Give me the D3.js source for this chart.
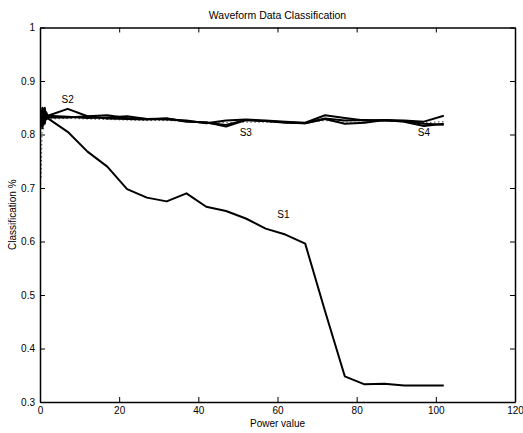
<!DOCTYPE html>
<html>
<head>
<meta charset="utf-8">
<script src="https://cdn.jsdelivr.net/npm/d3@7"></script>
<style>
  body { margin: 0; background: #fff; }
  text { font-family: "Liberation Sans", Arial, sans-serif; fill: #000; }
</style>
</head>
<body>
<div id="chart"></div>
<script>
// power values (x) : a few close to zero, then every 5
var powerValues = [0.3, 0.6, 0.9, 1.2, 1.5, 2, 7, 12, 17, 22, 27, 32, 37, 42, 47, 52, 57, 62, 67, 72, 77, 82, 87, 92, 97, 102];

var s1Values = [0.845, 0.815, 0.840, 0.820, 0.835, 0.830, 0.805, 0.768, 0.740, 0.698, 0.682, 0.675, 0.690, 0.665, 0.657, 0.643, 0.624, 0.613, 0.596, 0.470, 0.348, 0.333, 0.334, 0.331, 0.331, 0.331];
var s2Values = [0.825, 0.850, 0.830, 0.845, 0.828, 0.835, 0.848, 0.834, 0.836, 0.831, 0.829, 0.830, 0.825, 0.822, 0.818, 0.827, 0.825, 0.823, 0.821, 0.830, 0.826, 0.827, 0.826, 0.825, 0.820, 0.818];
var s3Values = [0.840, 0.812, 0.848, 0.826, 0.842, 0.835, 0.833, 0.831, 0.832, 0.834, 0.829, 0.828, 0.826, 0.821, 0.826, 0.828, 0.826, 0.824, 0.822, 0.836, 0.831, 0.826, 0.827, 0.826, 0.824, 0.835];
var s4Values = [0.818, 0.846, 0.822, 0.850, 0.830, 0.832, 0.832, 0.834, 0.830, 0.829, 0.828, 0.830, 0.824, 0.823, 0.815, 0.827, 0.825, 0.822, 0.821, 0.829, 0.820, 0.822, 0.827, 0.824, 0.816, 0.820];
var dottedValues = [0.720, 0.840, 0.810, 0.835, 0.826, 0.829, 0.830, 0.829, 0.828, 0.827, 0.826, 0.826, 0.825, 0.823, 0.822, 0.823, 0.823, 0.822, 0.822, 0.826, 0.823, 0.823, 0.825, 0.824, 0.822, 0.824];

// series labels and the point they sit by
var seriesLabels = ["S1", "S2", "S3", "S4"];
var labelX = [61.5, 7, 52, 97];
var labelY = [0.643, 0.858, 0.797, 0.797];

var xTicks = [0, 20, 40, 60, 80, 100, 120];
var yTicks = [0.3, 0.4, 0.5, 0.6, 0.7, 0.8, 0.9, 1];

var width = 523, height = 433;
var margin = {top: 27.5, right: 8, bottom: 31, left: 40};
var graphWidth = width - margin.left - margin.right;
var graphHeight = height - margin.top - margin.bottom;

var svg = d3.select("#chart")
  .append("svg")
  .attr("width", width)
  .attr("height", height)
  .append("g")
  .attr("transform", "translate(" + margin.left + "," + margin.top + ")");

var x = d3.scaleLinear().domain([0, 120]).range([0, graphWidth]);
var y = d3.scaleLinear().domain([0.3, 1]).range([graphHeight, 0]);

var tickLen = 5;

// axes (MATLAB style: ticks inward, box all round)
svg.append("g")
  .attr("transform", "translate(0," + graphHeight + ")")
  .call(d3.axisBottom(x).tickValues(xTicks).tickSizeInner(-tickLen).tickSizeOuter(0).tickPadding(5).tickFormat(d3.format("d")))
  .call(styleAxis);

svg.append("g")
  .call(d3.axisTop(x).tickValues(xTicks).tickSizeInner(-tickLen).tickSizeOuter(0).tickFormat(""))
  .call(styleAxis);

svg.append("g")
  .call(d3.axisLeft(y).tickValues(yTicks).tickSizeInner(-tickLen).tickSizeOuter(0).tickPadding(5).tickFormat(d => d === 1 ? "1" : d3.format(".1f")(d)))
  .call(styleAxis);

svg.append("g")
  .attr("transform", "translate(" + graphWidth + ",0)")
  .call(d3.axisRight(y).tickValues(yTicks).tickSizeInner(-tickLen).tickSizeOuter(0).tickFormat(""))
  .call(styleAxis);

function styleAxis(g) {
  g.select(".domain").attr("stroke", "#000").attr("stroke-width", 1.5);
  g.selectAll(".tick line").attr("stroke", "#000").attr("stroke-width", 1);
  g.selectAll(".tick text").attr("font-size", "10px").attr("font-family", "Liberation Sans, Arial, sans-serif").attr("fill", "#000");
}

// lines
var line = d3.line()
  .x((d, i) => x(powerValues[i]))
  .y(d => y(d));

svg.append("path")
  .datum(dottedValues)
  .attr("d", line)
  .attr("fill", "none")
  .attr("stroke", "#000")
  .attr("stroke-width", 1)
  .attr("stroke-dasharray", "1,3");

[s1Values, s2Values, s3Values, s4Values].forEach(function(vals) {
  svg.append("path")
    .datum(vals)
    .attr("d", line)
    .attr("fill", "none")
    .attr("stroke", "#000")
    .attr("stroke-width", 2)
    .attr("stroke-linejoin", "round");
});

// series labels
svg.selectAll(".slabel")
  .data(seriesLabels)
  .enter()
  .append("text")
  .attr("class", "slabel")
  .attr("x", (d, i) => x(labelX[i]))
  .attr("y", (d, i) => y(labelY[i]))
  .attr("font-size", "10px")
  .style("text-anchor", "middle")
  .text(d => d);

// title
svg.append("text")
  .attr("x", graphWidth / 2)
  .attr("y", -9)
  .attr("font-size", "10.5px")
  .style("text-anchor", "middle")
  .text("Waveform Data Classification");

// x label
svg.append("text")
  .attr("x", graphWidth / 2)
  .attr("y", graphHeight + 25)
  .attr("font-size", "10px")
  .style("text-anchor", "middle")
  .text("Power value");

// y label
svg.append("text")
  .attr("transform", "rotate(-90)")
  .attr("x", -graphHeight / 2)
  .attr("y", -24)
  .attr("font-size", "10px")
  .style("text-anchor", "middle")
  .text("Classification %");
</script>
</body>
</html>
